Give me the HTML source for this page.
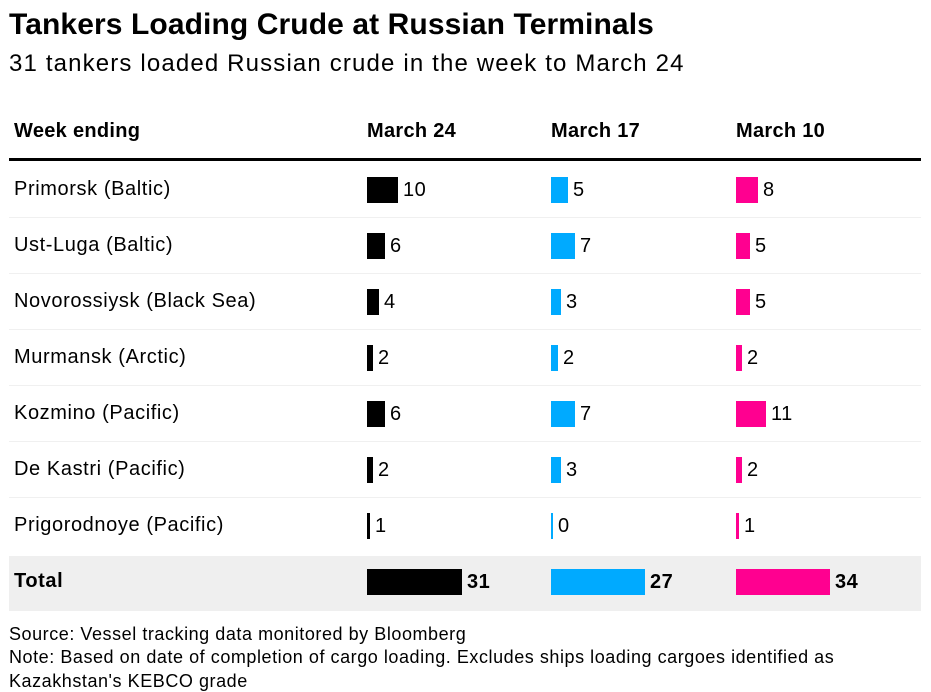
<!DOCTYPE html>
<html><head><meta charset="utf-8"><style>
body{margin:0;width:931px;height:676px;overflow:hidden;background:#fff;font-family:"Liberation Sans",Arial,sans-serif;color:#000;position:relative}
.a{position:absolute;white-space:nowrap}
.t{left:9px;top:8px;font-size:30px;font-weight:bold;letter-spacing:0.1px}
.s{left:9px;top:50px;font-size:24px;letter-spacing:1.15px}
.h{font-size:20px;font-weight:bold;top:120px;letter-spacing:0.3px}
.l{font-size:20px;left:14px;letter-spacing:0.6px}
.bar{position:absolute;height:26px}
.v{position:absolute;font-size:20px;letter-spacing:0.5px}
.sep{position:absolute;left:9px;width:912px;height:1px;background:#f0f0f0}
.f{left:9px;font-size:18px;letter-spacing:0.55px}
</style></head><body>
<div class="a t">Tankers Loading Crude at Russian Terminals</div>
<div class="a s">31 tankers loaded Russian crude in the week to March 24</div>
<div class="a h" style="left:14px">Week ending</div>
<div class="a h" style="left:367px">March 24</div>
<div class="a h" style="left:551px">March 17</div>
<div class="a h" style="left:736px">March 10</div>
<div style="position:absolute;left:9px;top:158px;width:912px;height:3px;background:#000"></div>
<div style="position:absolute;left:9px;top:556px;width:912px;height:55px;background:#efefef"></div>
<div id="rows"></div>
<div class="a f" style="top:624px">Source: Vessel tracking data monitored by Bloomberg</div>
<div class="a f" style="top:647px">Note: Based on date of completion of cargo loading. Excludes ships loading cargoes identified as</div>
<div class="a f" style="top:671px">Kazakhstan's KEBCO grade</div>
<script>
var rows=[["Primorsk (Baltic)",10,5,8],["Ust-Luga (Baltic)",6,7,5],["Novorossiysk (Black Sea)",4,3,5],["Murmansk (Arctic)",2,2,2],["Kozmino (Pacific)",6,7,11],["De Kastri (Pacific)",2,3,2],["Prigorodnoye (Pacific)",1,0,1],["Total",31,27,34]];
var xs=[367,551,736],sc=[95/31,94/27,94/34],cols=["#000","#00aaff","#ff0090"];
var h="";
rows.forEach(function(r,i){
 var c=189+56*i,tot=i==7;
 if(i>0&&i<7)h+='<div class="sep" style="top:'+(c-28)+'px"></div>';
 h+='<div class="a l" style="top:'+(c-11)+'px;'+(tot?'font-weight:bold':'')+'">'+r[0]+'</div>';
 for(var k=0;k<3;k++){var w=Math.max(2,Math.round(r[k+1]*sc[k]));
  h+='<div class="bar" style="left:'+xs[k]+'px;top:'+(c-12)+'px;width:'+w+'px;background:'+cols[k]+'"></div>';
  h+='<div class="v" style="left:'+(xs[k]+w+5)+'px;top:'+(c-10)+'px;'+(tot?'font-weight:bold':'')+'">'+r[k+1]+'</div>';}
});
document.getElementById("rows").innerHTML=h;
</script>
</body></html>
